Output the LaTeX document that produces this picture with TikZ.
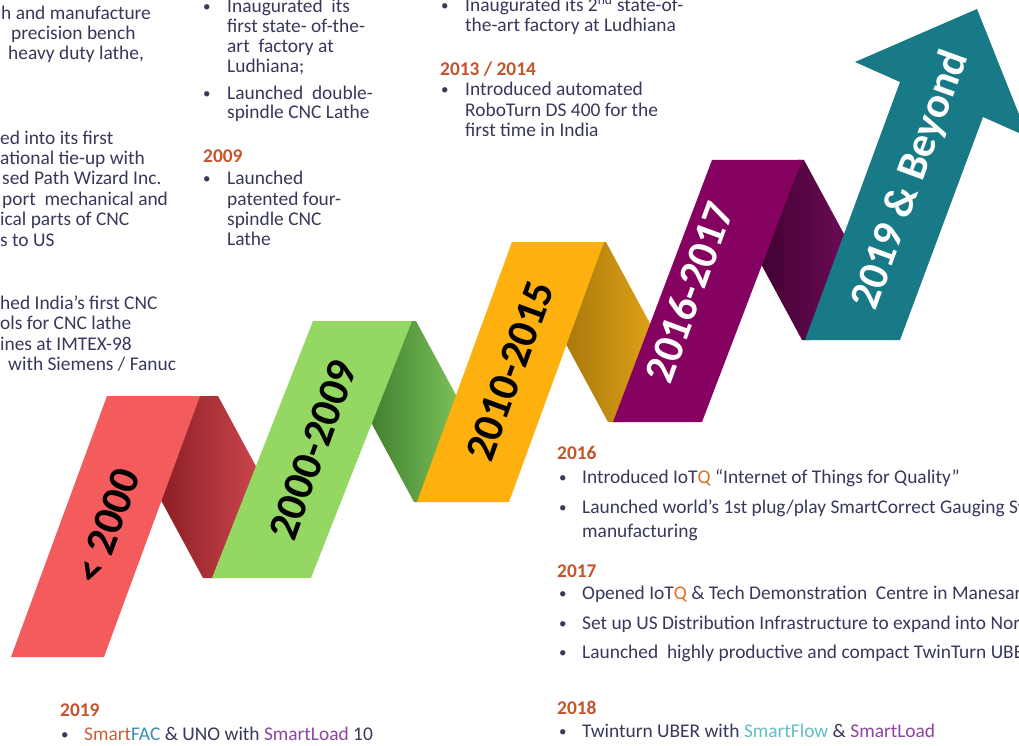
\documentclass[tikz,border=0pt]{standalone}
\usepackage{fontspec}
\setmainfont{Carlito}
\usetikzlibrary{calc}

\definecolor{bodyc}{RGB}{56,56,92}
\definecolor{yearc}{RGB}{196,84,43}
\definecolor{qc}{RGB}{228,108,30}
\definecolor{flowc}{RGB}{100,190,198}
\definecolor{loadc}{RGB}{142,68,160}
\definecolor{smartc}{RGB}{200,97,58}
\definecolor{facc}{RGB}{58,140,180}

\definecolor{redf}{RGB}{244,91,92}
\definecolor{redd}{RGB}{138,29,36}
\definecolor{redl}{RGB}{204,70,76}
\definecolor{grnf}{RGB}{148,216,99}
\definecolor{grnd}{RGB}{62,125,46}
\definecolor{grnl}{RGB}{125,195,90}
\definecolor{orgf}{RGB}{253,176,14}
\definecolor{orgd}{RGB}{167,119,12}
\definecolor{orgl}{RGB}{224,163,23}
\definecolor{purf}{RGB}{133,2,96}
\definecolor{purd}{RGB}{63,2,49}
\definecolor{purl}{RGB}{109,11,87}
\definecolor{tealf}{RGB}{23,122,134}

\tikzset{
  body/.style={font=\fontsize{19.4}{20}\selectfont, text=bodyc, inner sep=0pt, anchor=base west},
  bul/.style={font=\fontsize{15}{15}\selectfont, text=bodyc, inner sep=0pt, anchor=base west, yshift=1pt},
  yr/.style={font=\fontsize{19.4}{20}\selectfont\bfseries, text=yearc, inner sep=0pt, anchor=base west},
  lab/.style={font=\fontsize{43}{43}\selectfont\bfseries, inner sep=0pt, rotate=70},
}

% one shaded fold between two panels:
% #1 prefix, #2 colour dark, #3 colour light,
% #4 top corner T, #5 bottom corner F,
% #6/#7 right edge of the panel before, #8/#9 left edge of the panel after
\newcommand\ribbonfold[9]{%
  \coordinate (#1T) at #4;
  \coordinate (#1F) at #5;
  \coordinate (#1T2) at ($(#1T)+(54,100)$);
  \coordinate (#1F2) at ($(#1F)+(-54,-100)$);
  \coordinate (#1Q) at (intersection of #1T--#1T2 and #8--#9);
  \coordinate (#1P) at (intersection of #1F--#1F2 and #6--#7);
  \shade[left color=#2, right color=#3]
    ($(#6)+(-4,0)$) -- (#1T) -- ($(#1T)!1.12!(#1Q)$) -- ($(#8)+(5,0)$)
    -- (#1F) -- ($(#1F)!1.12!(#1P)$) -- cycle;
}

\begin{document}
\begin{tikzpicture}[x=1pt,y=-1pt]
\useasboundingbox (0,0) rectangle (1019,746);
\clip (0,0) rectangle (1019,746);
\fill[white] (0,0) rectangle (1019,746);

% panel corners
\coordinate (rTL) at (107,396); \coordinate (rTR) at (200,396);
\coordinate (rBR) at (104,657); \coordinate (rBL) at (11,657);
\coordinate (gTL) at (313,321); \coordinate (gTR) at (412,321);
\coordinate (gBR) at (311,578); \coordinate (gBL) at (212,578);
\coordinate (oTL) at (512,242); \coordinate (oTR) at (604,242);
\coordinate (oBR) at (509,502); \coordinate (oBL) at (417,502);
\coordinate (pTL) at (712,160); \coordinate (pTR) at (802,160);
\coordinate (pBR) at (702,422); \coordinate (pBL) at (613,422);
\coordinate (tBL) at (805,340); \coordinate (tBR) at (900,340);
\coordinate (tSL) at (900,82);  \coordinate (tSR) at (983,117);
\coordinate (tHL) at (855,62);  \coordinate (tTip) at (977,9);
\coordinate (tHR) at (1028,137);

% folds behind the panels
\ribbonfold{rf}{redd}{redl}{(218,396)}{(203,578)}{rTR}{rBR}{gBL}{gTL}
\ribbonfold{gf}{grnd}{grnl}{(416,321)}{(414,502)}{gTR}{gBR}{oBL}{oTL}
\ribbonfold{of}{orgd}{orgl}{(606,242)}{(608,422)}{oTR}{oBR}{pBL}{pTL}
\ribbonfold{pf}{purd}{purl}{(804,160)}{(802,340)}{pTR}{pBR}{tBL}{tSL}

% front panels
\fill[redf] (rTL) -- (rTR) -- (rBR) -- (rBL) -- cycle;
\fill[grnf] (gTL) -- (gTR) -- (gBR) -- (gBL) -- cycle;
\fill[orgf] (oTL) -- (oTR) -- (oBR) -- (oBL) -- cycle;
\fill[purf] (pTL) -- (pTR) -- (pBR) -- (pBL) -- cycle;
\fill[tealf] (tBL) -- (tBR) -- (tSR) -- (tHR) -- (tTip) -- (tHL) -- (tSL) -- cycle;

% period labels
\node[lab, text=black] (l1) at (108,526) {< 2000};
\node[lab, text=black] (l2) at (313,450) {2000-2009};
\node[lab, text=black] (l3) at (510,371) {2010-2015};
\node[lab, text=white] (l4) at (689,292) {2016-2017};
\node[lab, text=white] (l5) at (911,180) {2019 \& Beyond};

% left column
\node[body] (a1) at (1,20) {h and manufacture};
\node[body] (a2) at (11,40) {precision bench};
\node[body] (a3) at (8,60) {heavy duty lathe,};
\node[body] (a4) at (0,145) {ed into its first};
\node[body] (a5) at (0,165) {ational tie-up with};
\node[body] (a6) at (2,185) {sed Path Wizard Inc.};
\node[body] (a7) at (2,205) {port\ \ mechanical and};
\node[body] (a8) at (0,225) {ical parts of CNC};
\node[body] (a9) at (0,246) {s to US};
\node[body] (a10) at (0,309) {hed India’s first CNC};
\node[body] (a11) at (0,329) {ols for CNC lathe};
\node[body] (a12) at (0,350) {ines at IMTEX-98};
\node[body] (a13) at (8,370) {with Siemens / Fanuc};

% second column
\node[bul]  (bb1) at (203,13) {•};
\node[body] (b1) at (227,13) {Inaugurated\ \ its};
\node[body] (b2) at (227,33) {first state- of-the-};
\node[body] (b3) at (227,53) {art\ \ factory at};
\node[body] (b4) at (227,73) {Ludhiana;};
\node[bul]  (bb2) at (203,100) {•};
\node[body] (b5) at (227,100) {Launched\ \ double-};
\node[body] (b6) at (227,119) {spindle CNC Lathe};
\node[yr]   (b7) at (203,163) {2009};
\node[bul]  (bb3) at (203,185) {•};
\node[body] (b8) at (227,185) {Launched};
\node[body] (b9) at (227,205) {patented four-};
\node[body] (b10) at (227,225) {spindle CNC};
\node[body] (b11) at (227,245) {Lathe};

% third column
\node[bul]  (cb1) at (441,12) {•};
\node[body] (c1) at (465,12) {Inaugurated its 2\textsuperscript{nd} state-of-};
\node[body] (c2) at (465,32) {the-art factory at Ludhiana};
\node[yr]   (c3) at (440,76) {2013 / 2014};
\node[bul]  (cb2) at (441,96) {•};
\node[body] (c4) at (465,96) {Introduced automated};
\node[body] (c5) at (465,117) {RoboTurn DS 400 for the};
\node[body] (c6) at (465,137) {first time in India};

% lower right block
\node[yr]   (d0) at (557,459) {2016};
\node[bul]  (db1) at (559,483) {•};
\node[body] (d1) at (582,483) {Introduced IoT\textcolor{qc}{Q} “Internet of Things for Quality”};
\node[bul]  (db2) at (559,513) {•};
\node[body] (d2) at (582,513) {Launched world’s 1st plug/play SmartCorrect Gauging System};
\node[body] (d3) at (582,537) {manufacturing};
\node[yr]   (d4) at (557,577) {2017};
\node[bul]  (db3) at (559,599) {•};
\node[body] (d5) at (582,599) {Opened IoT\textcolor{qc}{Q} \& Tech Demonstration\ \ Centre in Manesar};
\node[bul]  (db4) at (559,629) {•};
\node[body] (d6) at (582,629) {Set up US Distribution Infrastructure to expand into North America};
\node[bul]  (db5) at (559,658) {•};
\node[body] (d7) at (582,658) {Launched\ \ highly productive and compact TwinTurn UBER};
\node[yr]   (d8) at (557,714) {2018};
\node[bul]  (db6) at (559,737) {•};
\node[body] (d9) at (582,737) {Twinturn UBER with \textcolor{flowc}{SmartFlow} \& \textcolor{loadc}{SmartLoad}};

% lower left block
\node[yr]   (e0) at (60,716) {2019};
\node[bul]  (eb1) at (61,740) {•};
\node[body] (e1) at (84,740) {\textcolor{smartc}{Smart}\textcolor{facc}{FAC} \& UNO with \textcolor{loadc}{SmartLoad} 10};
\end{tikzpicture}
\end{document}
